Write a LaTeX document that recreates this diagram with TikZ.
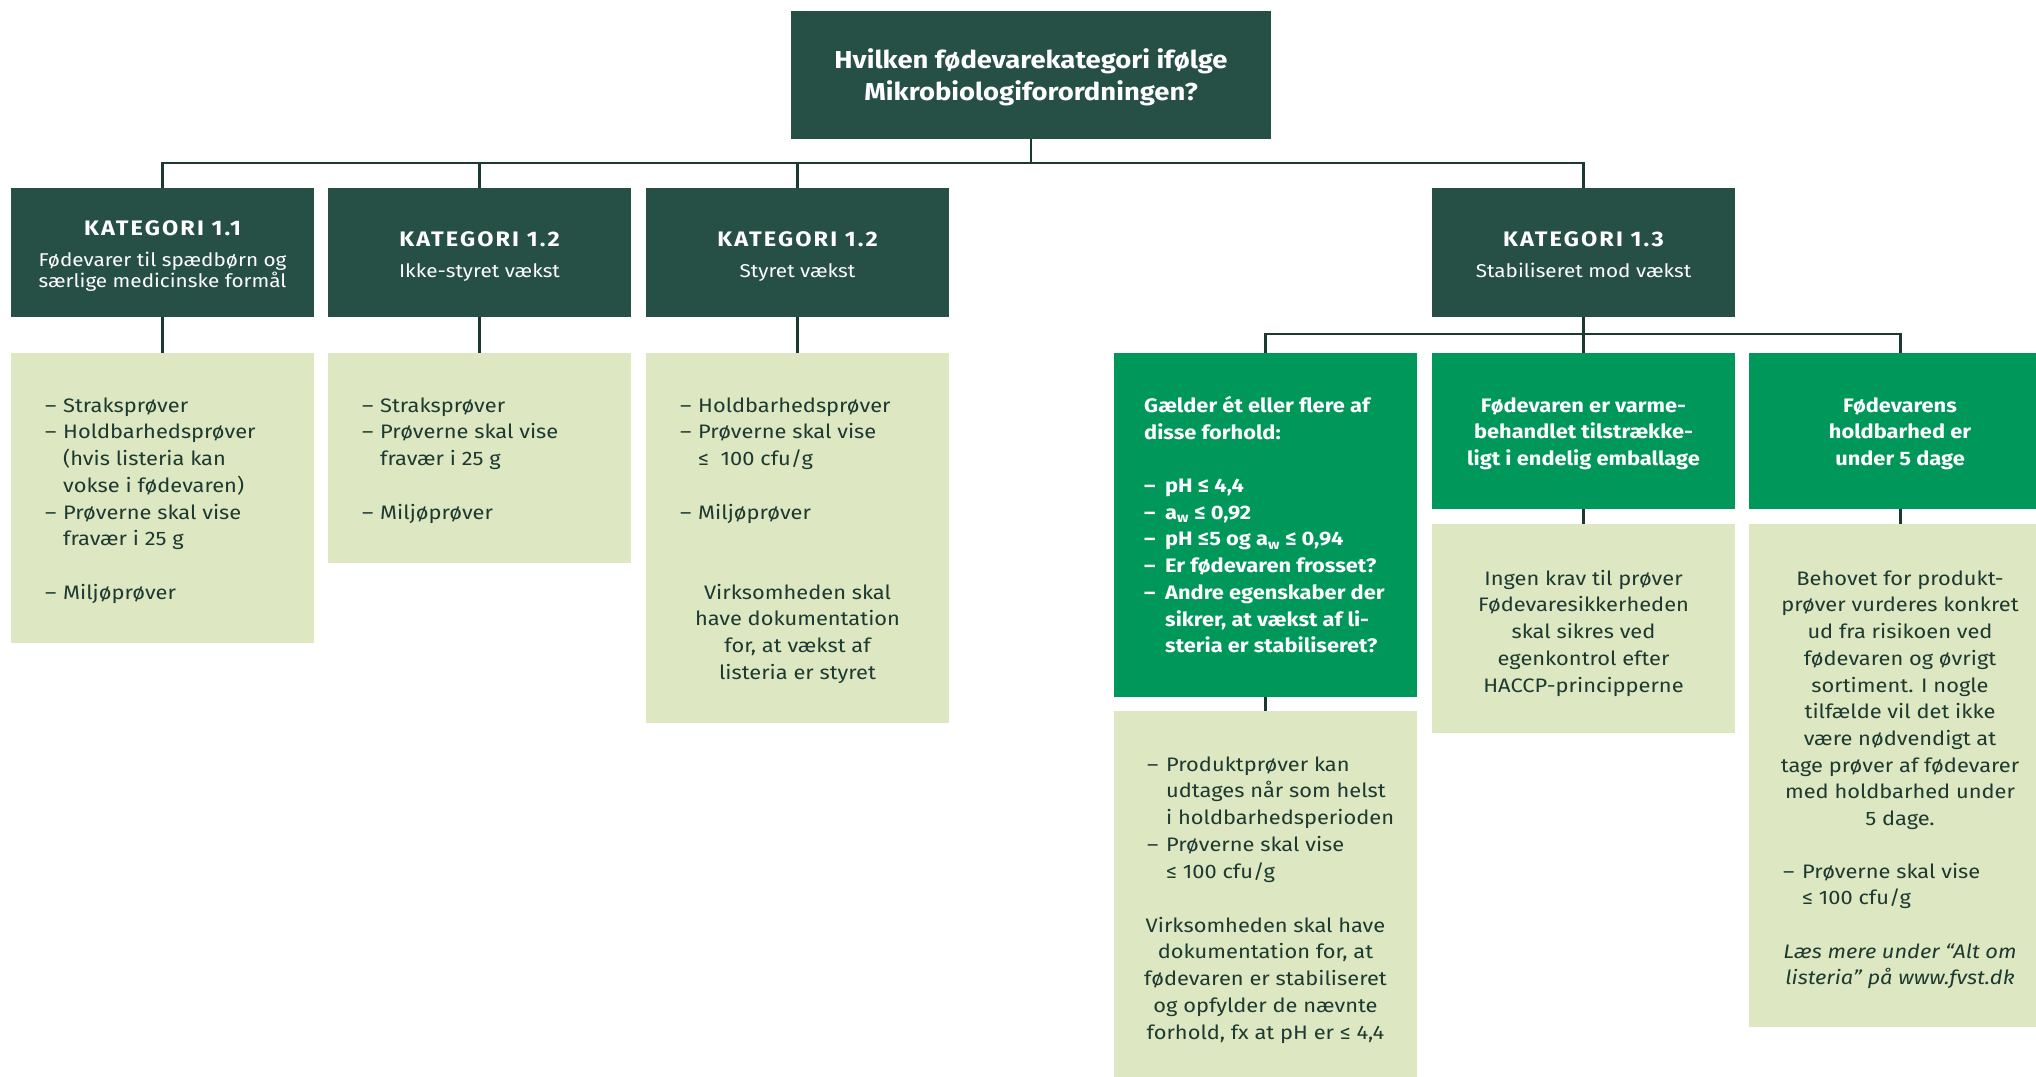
\documentclass[tikz,border=0pt]{standalone}
\usepackage{fontspec}
\setmainfont{Fira Sans}[FakeStretch=1.12]
\definecolor{dk}{HTML}{264F45}
\definecolor{gr}{HTML}{00985A}
\definecolor{lt}{HTML}{DDE7C1}
\definecolor{ink}{HTML}{1C3A31}
\definecolor{ln}{HTML}{1A3A31}
\newcommand{\bl}[2][18pt]{\makebox[#1][l]{–}#2}
\newcommand{\ind}[1][18pt]{\hspace*{#1}}
\newcommand{\st}{\rule{0pt}{16pt}}
\begin{document}
\begin{tikzpicture}[x=1pt,y=-1pt,
  box/.style={anchor=north west, inner sep=0pt, outer sep=0pt, draw=none},
  dkbox/.style={box, fill=dk, minimum width=303pt, minimum height=129pt},
  grbox/.style={box, fill=gr, minimum width=303pt},
  ltbox/.style={box, fill=lt, minimum width=303pt},
  body/.style={font=\fontsize{19.5}{26.7}\selectfont, text=ink, inner sep=0pt},
  wbody/.style={font=\fontsize{19.5}{26.7}\selectfont\bfseries, text=white, inner sep=0pt},
  head/.style={font=\fontsize{21}{24}\selectfont\bfseries\addfontfeature{LetterSpace=10}, text=white, inner sep=0pt, anchor=base},
  sub/.style={font=\fontsize{18.5}{21}\selectfont, text=white, inner sep=0pt, align=center},
  conn/.style={draw=ln, line width=2.6pt}]
\useasboundingbox (0,0) rectangle (2036,1076);

% boxes
\node[box, fill=dk, minimum width=480pt, minimum height=128pt] (top) at (791,11) {};
\node[dkbox] (k11) at (11,188) {};
\node[dkbox] (k12a) at (328,188) {};
\node[dkbox] (k12b) at (646,188) {};
\node[dkbox] (k13) at (1432,188) {};

\node[ltbox, minimum height=290pt] (l11) at (11,353) {};
\node[ltbox, minimum height=210pt] (l12a) at (328,353) {};
\node[ltbox, minimum height=370pt] (l12b) at (646,353) {};

\node[grbox, minimum height=344pt] (g1) at (1114,353) {};
\node[grbox, minimum height=156pt] (g2) at (1432,353) {};
\node[grbox, minimum height=156pt] (g3) at (1749,353) {};

\node[ltbox, minimum height=366pt] (lg1) at (1114,711) {};
\node[ltbox, minimum height=209pt] (lg2) at (1432,524) {};
\node[ltbox, minimum height=503pt] (lg3) at (1749,524) {};

% connectors
\draw[conn] (top.south) -- ++(0,24) -| (k11.north);
\draw[conn] (top.south) -- ++(0,24) -| (k12a.north);
\draw[conn] (top.south) -- ++(0,24) -| (k12b.north);
\draw[conn] (top.south) -- ++(0,24) -| (k13.north);
\draw[conn] (k13.south) -- ++(0,17) -| (g1.north);
\draw[conn] (k13.south) -- (g2.north);
\draw[conn] (k13.south) -- ++(0,17) -| (g3.north);
\draw[conn] (k11.south) -- (l11.north);
\draw[conn] (k12a.south) -- (l12a.north);
\draw[conn] (k12b.south) -- (l12b.north);
\draw[conn] (g1.south) -- (lg1.north);
\draw[conn] (g2.south) -- (lg2.north);
\draw[conn] (g3.south) -- (lg3.north);

% texts (north anchored, first line has a strut: first baseline = y + strut height)
\node[font=\fontsize{24.5}{32}\selectfont\bfseries, text=white, inner sep=0pt, anchor=north, align=center] (topt) at (1031,48) {\rule{0pt}{20pt}Hvilken fødevarekategori ifølge\\Mikrobiologiforordningen?};

\node[head] (k11h) at (162.5,235) {KATEGORI 1.1};
\node[sub, anchor=north] (k11s) at (162.5,251) {\rule{0pt}{15pt}Fødevarer til spædbørn og\\særlige medicinske formål};
\node[head] (k12ah) at (479.5,246) {KATEGORI 1.2};
\node[sub, anchor=base] (k12as) at (479.5,277) {Ikke-styret vækst};
\node[head] (k12bh) at (797.5,246) {KATEGORI 1.2};
\node[sub, anchor=base] (k12bs) at (797.5,277) {Styret vækst};
\node[head] (k13h) at (1583.5,246) {KATEGORI 1.3};
\node[sub, anchor=base] (k13s) at (1583.5,277) {Stabiliseret mod vækst};

\node[body, anchor=north west, align=left] (l11t) at (45,396) {\st\bl{Straksprøver}\\\bl{Holdbarhedsprøver}\\\ind(hvis listeria kan\\\ind vokse i fødevaren)\\\bl{Prøverne skal vise}\\\ind fravær i 25 g\\[26.7pt]\bl{Miljøprøver}};

\node[body, anchor=north west, align=left] (l12at) at (362,396) {\st\bl{Straksprøver}\\\bl{Prøverne skal vise}\\\ind fravær i 25 g\\[26.7pt]\bl{Miljøprøver}};

\node[body, anchor=north west, align=left] (l12bt) at (680,396) {\st\bl{Holdbarhedsprøver}\\\bl{Prøverne skal vise}\\\ind ≤~~100 cfu/g\\[26.7pt]\bl{Miljøprøver}};
\node[body, anchor=north, align=center] (l12bp) at (797.5,583) {\st Virksomheden skal\\have dokumentation\\for, at vækst af\\listeria er styret};

\node[wbody, anchor=north west, align=left] (g1t) at (1144,396) {\st Gælder ét eller flere af\\disse forhold:\\[26.7pt]\bl[21pt]{pH ≤ 4,4}\\\bl[21pt]{a\textsubscript{w} ≤ 0,92}\\\bl[21pt]{pH ≤5 og a\textsubscript{w} ≤ 0,94}\\\bl[21pt]{Er fødevaren frosset?}\\\bl[21pt]{Andre egenskaber der}\\\ind[21pt]sikrer, at vækst af li-\\\ind[21pt]steria er stabiliseret?};

\node[wbody, anchor=north, align=center] (g2t) at (1583.5,396) {\st Fødevaren er varme-\\behandlet tilstrække-\\ligt i endelig emballage};
\node[wbody, anchor=north, align=center] (g3t) at (1900,396) {\st Fødevarens\\holdbarhed er\\under 5 dage};

\node[body, anchor=north west, align=left] (lg1t) at (1147,755) {\st\bl[19pt]{Produktprøver kan}\\\ind[19pt]udtages når som helst\\\ind[19pt]i holdbarhedsperioden\\\bl[19pt]{Prøverne skal vise}\\\ind[19pt]≤ 100 cfu/g};
\node[body, anchor=north, align=center] (lg1p) at (1265.5,916) {\st Virksomheden skal have\\dokumentation for, at\\fødevaren er stabiliseret\\og opfylder de nævnte\\forhold, fx at pH er ≤ 4,4};

\node[body, anchor=north, align=center] (lg2t) at (1583.5,569) {\st Ingen krav til prøver\\Fødevaresikkerheden\\skal sikres ved\\egenkontrol efter\\HACCP-principperne};

\node[body, anchor=north, align=center] (lg3t) at (1900,569) {\st Behovet for produkt-\\prøver vurderes konkret\\ud fra risikoen ved\\fødevaren og øvrigt\\sortiment. I nogle\\tilfælde vil det ikke\\være nødvendigt at\\tage prøver af fødevarer\\med holdbarhed under\\5 dage.};
\node[body, anchor=north west, align=left] (lg3b) at (1783,862) {\st\bl[19pt]{Prøverne skal vise}\\\ind[19pt]≤ 100 cfu/g};
\node[body, anchor=north, align=center, font=\fontsize{19.5}{26.7}\selectfont\itshape] (lg3i) at (1900,942) {\st Læs mere under “Alt om\\listeria” på www.fvst.dk};
\end{tikzpicture}
\end{document}
